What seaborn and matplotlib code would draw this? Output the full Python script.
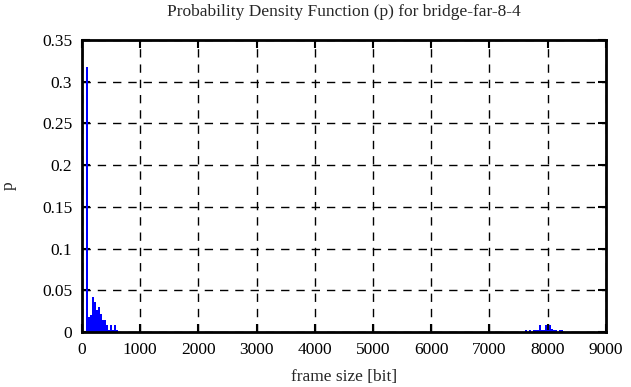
import numpy as np
import pandas as pd
import seaborn as sns
import matplotlib
matplotlib.use("Agg")
import matplotlib.pyplot as plt

# frame size bins [bit] and probability p
small_sizes = [87, 121, 155, 189, 223, 257, 291, 325, 359, 393, 427, 461, 495, 529, 563, 597]
small_p = [0.318, 0.018, 0.020, 0.042, 0.036, 0.026, 0.030, 0.022, 0.015, 0.015,
           0.008, 0.003, 0.008, 0.003, 0.008, 0.003]
large_sizes = [7635, 7703, 7771, 7805, 7839, 7873, 7907, 7941, 7975, 8009, 8043,
               8077, 8111, 8145, 8213, 8247]
large_p = [0.003, 0.003, 0.003, 0.003, 0.003, 0.008, 0.003, 0.003, 0.008, 0.003,
           0.008, 0.004, 0.003, 0.003, 0.003, 0.003]

x_ticks = list(range(0, 9001, 1000))
y_ticks = [0, 0.05, 0.1, 0.15, 0.2, 0.25, 0.3, 0.35]
y_labels = ["0", "0.05", "0.1", "0.15", "0.2", "0.25", "0.3", "0.35"]

df = pd.DataFrame({"size": small_sizes + large_sizes, "p": small_p + large_p})

sns.set_style("ticks")
plt.rcParams["font.family"] = ["Liberation Serif", "DejaVu Serif"]

fig = plt.figure(figsize=(6.31, 3.87), dpi=100)
ax = fig.add_axes([0.130, 0.142, 0.830, 0.755])

sns.histplot(data=df, x="size", weights="p", binwidth=34, binrange=(70, 8264),
             color="#0000ff", alpha=1, linewidth=0, ax=ax)

ax.set_xlim(0, 9000)
ax.set_ylim(0, 0.35)
ax.set_xticks(x_ticks)
ax.set_yticks(y_ticks)
ax.set_yticklabels(y_labels)
ax.grid(True, color="black", linestyle=(0, (6, 5)), linewidth=1)
ax.set_axisbelow(True)
for s in ax.spines.values():
    s.set_linewidth(2)
    s.set_color("black")
ax.tick_params(direction="in", length=6, width=1.5, top=True, right=True,
               labelsize=12.5, colors="black", pad=7)
ax.set_xlabel("frame size [bit]", fontsize=12.5, labelpad=8)
ax.set_ylabel("p", fontsize=12.5, labelpad=18)
ax.set_title("Probability Density Function (p) for bridge-far-8-4", fontsize=12.5, pad=17)

fig.savefig("out.png", dpi=100)
